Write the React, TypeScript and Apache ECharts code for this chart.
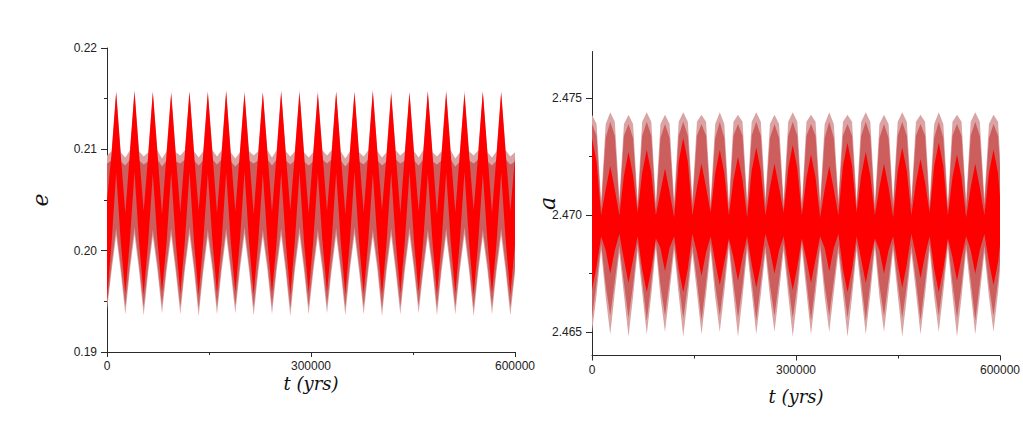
import React, { useEffect, useRef } from "react";
import * as echarts from "echarts";

// ---------- Left panel: eccentricity e vs t (yrs) ----------
const T_E = [
  0, 6740, 13480, 20220,
  26960, 33700, 40440, 47180,
  53920, 60660, 67400, 74140,
  80880, 87620, 94360, 101100,
  107840, 114580, 121320, 128060,
  134800, 141540, 148280, 155020,
  161760, 168500, 175240, 181980,
  188720, 195460, 202200, 208940,
  215680, 222420, 229160, 235900,
  242640, 249380, 256120, 262860,
  269600, 276340, 283080, 289820,
  296560, 303300, 310040, 316780,
  323520, 330260, 337000, 343740,
  350480, 357220, 363960, 370700,
  377440, 384180, 390920, 397660,
  404400, 411140, 417880, 424620,
  431360, 438100, 444840, 451580,
  458320, 465060, 471800, 478540,
  485280, 492020, 498760, 505500,
  512240, 518980, 525720, 532460,
  539200, 545940, 552680, 559420,
  566160, 572900, 579640, 586380,
  593120, 600000,
];
// light pink envelope (upper / lower)
const E_PINK_UP = [
  0.2094, 0.2098, 0.2158, 0.2097,
  0.2092, 0.2099, 0.2159, 0.2098,
  0.2093, 0.2097, 0.2158, 0.2099,
  0.2091, 0.2098, 0.2158, 0.2097,
  0.2094, 0.2099, 0.2157, 0.2098,
  0.2092, 0.2098, 0.2158, 0.2099,
  0.2093, 0.2099, 0.2159, 0.2097,
  0.2091, 0.2097, 0.2158, 0.2098,
  0.2094, 0.2098, 0.2157, 0.2099,
  0.2092, 0.2099, 0.2158, 0.2098,
  0.2093, 0.2098, 0.2159, 0.2097,
  0.2092, 0.2097, 0.2158, 0.2099,
  0.2094, 0.2099, 0.2157, 0.2098,
  0.2091, 0.2098, 0.2158, 0.2097,
  0.2093, 0.2099, 0.2159, 0.2098,
  0.2092, 0.2097, 0.2158, 0.2099,
  0.2094, 0.2098, 0.2157, 0.2098,
  0.2092, 0.2099, 0.2158, 0.2097,
  0.2093, 0.2098, 0.2159, 0.2099,
  0.2091, 0.2097, 0.2158, 0.2098,
  0.2094, 0.2099, 0.2157, 0.2097,
  0.2092, 0.2098, 0.2158, 0.2099,
  0.2093, 0.2097,
];
const E_PINK_LO = [
  0.1942, 0.1980, 0.2015, 0.1979,
  0.1937, 0.1981, 0.2016, 0.1980,
  0.1936, 0.1979, 0.2014, 0.1981,
  0.1938, 0.1980, 0.2015, 0.1979,
  0.1937, 0.1981, 0.2016, 0.1980,
  0.1935, 0.1979, 0.2014, 0.1981,
  0.1937, 0.1980, 0.2015, 0.1979,
  0.1938, 0.1981, 0.2016, 0.1980,
  0.1936, 0.1979, 0.2014, 0.1981,
  0.1937, 0.1980, 0.2015, 0.1979,
  0.1935, 0.1981, 0.2016, 0.1980,
  0.1937, 0.1979, 0.2014, 0.1981,
  0.1938, 0.1980, 0.2015, 0.1979,
  0.1936, 0.1981, 0.2016, 0.1980,
  0.1937, 0.1979, 0.2014, 0.1981,
  0.1935, 0.1980, 0.2015, 0.1979,
  0.1937, 0.1981, 0.2016, 0.1980,
  0.1938, 0.1979, 0.2014, 0.1981,
  0.1936, 0.1980, 0.2015, 0.1979,
  0.1937, 0.1981, 0.2016, 0.1980,
  0.1935, 0.1979, 0.2014, 0.1981,
  0.1937, 0.1980, 0.2015, 0.1979,
  0.1936, 0.1978,
];
// dusky red envelope
const E_DUSK_UP = [
  0.2086, 0.2089, 0.2152, 0.2088,
  0.2084, 0.2090, 0.2153, 0.2089,
  0.2085, 0.2088, 0.2152, 0.2090,
  0.2083, 0.2089, 0.2151, 0.2088,
  0.2086, 0.2090, 0.2153, 0.2089,
  0.2084, 0.2089, 0.2152, 0.2090,
  0.2085, 0.2090, 0.2153, 0.2088,
  0.2083, 0.2088, 0.2151, 0.2089,
  0.2086, 0.2089, 0.2152, 0.2090,
  0.2084, 0.2090, 0.2153, 0.2089,
  0.2085, 0.2089, 0.2152, 0.2088,
  0.2084, 0.2088, 0.2151, 0.2090,
  0.2086, 0.2090, 0.2153, 0.2089,
  0.2083, 0.2089, 0.2152, 0.2088,
  0.2085, 0.2090, 0.2153, 0.2089,
  0.2084, 0.2088, 0.2151, 0.2090,
  0.2086, 0.2089, 0.2152, 0.2089,
  0.2084, 0.2090, 0.2153, 0.2088,
  0.2085, 0.2089, 0.2152, 0.2090,
  0.2083, 0.2088, 0.2151, 0.2089,
  0.2086, 0.2090, 0.2153, 0.2088,
  0.2084, 0.2089, 0.2152, 0.2090,
  0.2085, 0.2088,
];
const E_DUSK_LO = [
  0.1946, 0.1986, 0.2022, 0.1985,
  0.1945, 0.1987, 0.2023, 0.1986,
  0.1944, 0.1985, 0.2021, 0.1987,
  0.1946, 0.1986, 0.2022, 0.1985,
  0.1945, 0.1987, 0.2023, 0.1986,
  0.1943, 0.1985, 0.2021, 0.1987,
  0.1945, 0.1986, 0.2022, 0.1985,
  0.1946, 0.1987, 0.2023, 0.1986,
  0.1944, 0.1985, 0.2021, 0.1987,
  0.1945, 0.1986, 0.2022, 0.1985,
  0.1943, 0.1987, 0.2023, 0.1986,
  0.1945, 0.1985, 0.2021, 0.1987,
  0.1946, 0.1986, 0.2022, 0.1985,
  0.1944, 0.1987, 0.2023, 0.1986,
  0.1945, 0.1985, 0.2021, 0.1987,
  0.1943, 0.1986, 0.2022, 0.1985,
  0.1945, 0.1987, 0.2023, 0.1986,
  0.1946, 0.1985, 0.2021, 0.1987,
  0.1944, 0.1986, 0.2022, 0.1985,
  0.1945, 0.1987, 0.2023, 0.1986,
  0.1943, 0.1985, 0.2021, 0.1987,
  0.1945, 0.1986, 0.2022, 0.1985,
  0.1944, 0.1984,
];
// bright red envelope
const E_RED_UP = [
  0.2050, 0.2096, 0.2156, 0.2095,
  0.2037, 0.2097, 0.2157, 0.2096,
  0.2039, 0.2095, 0.2156, 0.2097,
  0.2036, 0.2096, 0.2155, 0.2095,
  0.2038, 0.2097, 0.2157, 0.2096,
  0.2040, 0.2096, 0.2156, 0.2097,
  0.2037, 0.2095, 0.2157, 0.2096,
  0.2039, 0.2097, 0.2155, 0.2095,
  0.2036, 0.2096, 0.2156, 0.2097,
  0.2038, 0.2095, 0.2157, 0.2096,
  0.2040, 0.2097, 0.2156, 0.2095,
  0.2037, 0.2096, 0.2155, 0.2097,
  0.2039, 0.2095, 0.2157, 0.2096,
  0.2036, 0.2097, 0.2156, 0.2095,
  0.2038, 0.2096, 0.2157, 0.2097,
  0.2040, 0.2095, 0.2155, 0.2096,
  0.2037, 0.2097, 0.2156, 0.2095,
  0.2039, 0.2096, 0.2157, 0.2097,
  0.2036, 0.2095, 0.2156, 0.2096,
  0.2038, 0.2097, 0.2155, 0.2095,
  0.2040, 0.2096, 0.2157, 0.2097,
  0.2037, 0.2095, 0.2156, 0.2096,
  0.2039, 0.2092,
];
const E_RED_LO = [
  0.1952, 0.2008, 0.2077, 0.2009,
  0.1958, 0.2010, 0.2078, 0.2008,
  0.1957, 0.2009, 0.2076, 0.2010,
  0.1959, 0.2008, 0.2077, 0.2009,
  0.1958, 0.2010, 0.2078, 0.2008,
  0.1956, 0.2009, 0.2076, 0.2010,
  0.1958, 0.2008, 0.2077, 0.2009,
  0.1959, 0.2010, 0.2078, 0.2008,
  0.1957, 0.2009, 0.2076, 0.2010,
  0.1958, 0.2008, 0.2077, 0.2009,
  0.1956, 0.2010, 0.2078, 0.2008,
  0.1958, 0.2009, 0.2076, 0.2010,
  0.1959, 0.2008, 0.2077, 0.2009,
  0.1957, 0.2010, 0.2078, 0.2008,
  0.1958, 0.2009, 0.2076, 0.2010,
  0.1956, 0.2008, 0.2077, 0.2009,
  0.1958, 0.2010, 0.2078, 0.2008,
  0.1959, 0.2009, 0.2076, 0.2010,
  0.1957, 0.2008, 0.2077, 0.2009,
  0.1958, 0.2010, 0.2078, 0.2008,
  0.1956, 0.2009, 0.2076, 0.2010,
  0.1958, 0.2008, 0.2077, 0.2009,
  0.1957, 0.2006,
];

// ---------- Right panel: semi-major axis a vs t (yrs) ----------
const T_A = [
  0, 6710, 13420, 20130,
  26840, 33550, 40260, 46970,
  53680, 60390, 67100, 73810,
  80520, 87230, 93940, 100650,
  107360, 114070, 120780, 127490,
  134200, 140910, 147620, 154330,
  161040, 167750, 174460, 181170,
  187880, 194590, 201300, 208010,
  214720, 221430, 228140, 234850,
  241560, 248270, 254980, 261690,
  268400, 275110, 281820, 288530,
  295240, 301950, 308660, 315370,
  322080, 328790, 335500, 342210,
  348920, 355630, 362340, 369050,
  375760, 382470, 389180, 395890,
  402600, 409310, 416020, 422730,
  429440, 436150, 442860, 449570,
  456280, 462990, 469700, 476410,
  483120, 489830, 496540, 503250,
  509960, 516670, 523380, 530090,
  536800, 543510, 550220, 556930,
  563640, 570350, 577060, 583770,
  590480, 597190, 600000,
];
const A_PINK_UP = [
  2.4743, 2.4739, 2.4706, 2.4739,
  2.4744, 2.4740, 2.4707, 2.4739,
  2.4743, 2.4739, 2.4706, 2.4740,
  2.4744, 2.4740, 2.4705, 2.4739,
  2.4743, 2.4739, 2.4706, 2.4740,
  2.4744, 2.4740, 2.4707, 2.4740,
  2.4743, 2.4740, 2.4706, 2.4739,
  2.4744, 2.4739, 2.4705, 2.4740,
  2.4743, 2.4740, 2.4706, 2.4740,
  2.4744, 2.4740, 2.4707, 2.4739,
  2.4743, 2.4739, 2.4706, 2.4740,
  2.4744, 2.4740, 2.4705, 2.4740,
  2.4743, 2.4740, 2.4706, 2.4739,
  2.4744, 2.4739, 2.4707, 2.4740,
  2.4743, 2.4740, 2.4706, 2.4740,
  2.4744, 2.4740, 2.4705, 2.4739,
  2.4743, 2.4739, 2.4706, 2.4740,
  2.4744, 2.4740, 2.4707, 2.4740,
  2.4743, 2.4740, 2.4706, 2.4739,
  2.4744, 2.4739, 2.4705, 2.4740,
  2.4743, 2.4740, 2.4706, 2.4740,
  2.4744, 2.4740, 2.4707, 2.4739,
  2.4743, 2.4740, 2.4726,
];
const A_PINK_LO = [
  2.4650, 2.4666, 2.4685, 2.4665,
  2.4649, 2.4667, 2.4684, 2.4666,
  2.4648, 2.4665, 2.4685, 2.4667,
  2.4649, 2.4666, 2.4686, 2.4665,
  2.4650, 2.4667, 2.4685, 2.4666,
  2.4648, 2.4665, 2.4684, 2.4667,
  2.4649, 2.4666, 2.4685, 2.4665,
  2.4650, 2.4667, 2.4686, 2.4666,
  2.4648, 2.4665, 2.4685, 2.4667,
  2.4649, 2.4666, 2.4684, 2.4665,
  2.4650, 2.4667, 2.4685, 2.4666,
  2.4648, 2.4665, 2.4686, 2.4667,
  2.4649, 2.4666, 2.4685, 2.4665,
  2.4650, 2.4667, 2.4684, 2.4666,
  2.4648, 2.4665, 2.4685, 2.4667,
  2.4649, 2.4666, 2.4686, 2.4665,
  2.4650, 2.4667, 2.4685, 2.4666,
  2.4648, 2.4665, 2.4684, 2.4667,
  2.4649, 2.4666, 2.4685, 2.4665,
  2.4650, 2.4667, 2.4686, 2.4666,
  2.4648, 2.4665, 2.4685, 2.4667,
  2.4649, 2.4666, 2.4684, 2.4665,
  2.4650, 2.4667, 2.4676,
];
const A_DUSK_UP = [
  2.4739, 2.4734, 2.4703, 2.4733,
  2.4740, 2.4734, 2.4704, 2.4734,
  2.4739, 2.4733, 2.4703, 2.4734,
  2.4740, 2.4734, 2.4702, 2.4733,
  2.4739, 2.4733, 2.4703, 2.4734,
  2.4740, 2.4734, 2.4704, 2.4734,
  2.4739, 2.4734, 2.4703, 2.4733,
  2.4740, 2.4733, 2.4702, 2.4734,
  2.4739, 2.4734, 2.4703, 2.4734,
  2.4740, 2.4734, 2.4704, 2.4733,
  2.4739, 2.4733, 2.4703, 2.4734,
  2.4740, 2.4734, 2.4702, 2.4734,
  2.4739, 2.4734, 2.4703, 2.4733,
  2.4740, 2.4733, 2.4704, 2.4734,
  2.4739, 2.4734, 2.4703, 2.4734,
  2.4740, 2.4734, 2.4702, 2.4733,
  2.4739, 2.4733, 2.4703, 2.4734,
  2.4740, 2.4734, 2.4704, 2.4734,
  2.4739, 2.4734, 2.4703, 2.4733,
  2.4740, 2.4733, 2.4702, 2.4734,
  2.4739, 2.4734, 2.4703, 2.4734,
  2.4740, 2.4734, 2.4704, 2.4733,
  2.4739, 2.4734, 2.4721,
];
const A_DUSK_LO = [
  2.4656, 2.4671, 2.4688, 2.4670,
  2.4657, 2.4672, 2.4687, 2.4671,
  2.4656, 2.4670, 2.4688, 2.4672,
  2.4655, 2.4671, 2.4689, 2.4670,
  2.4657, 2.4672, 2.4688, 2.4671,
  2.4656, 2.4670, 2.4687, 2.4672,
  2.4655, 2.4671, 2.4688, 2.4670,
  2.4657, 2.4672, 2.4689, 2.4671,
  2.4656, 2.4670, 2.4688, 2.4672,
  2.4655, 2.4671, 2.4687, 2.4670,
  2.4657, 2.4672, 2.4688, 2.4671,
  2.4656, 2.4670, 2.4689, 2.4672,
  2.4655, 2.4671, 2.4688, 2.4670,
  2.4657, 2.4672, 2.4687, 2.4671,
  2.4656, 2.4670, 2.4688, 2.4672,
  2.4655, 2.4671, 2.4689, 2.4670,
  2.4657, 2.4672, 2.4688, 2.4671,
  2.4656, 2.4670, 2.4687, 2.4672,
  2.4655, 2.4671, 2.4688, 2.4670,
  2.4657, 2.4672, 2.4689, 2.4671,
  2.4656, 2.4670, 2.4688, 2.4672,
  2.4655, 2.4671, 2.4687, 2.4670,
  2.4657, 2.4672, 2.4680,
];
const A_RED_UP = [
  2.4733, 2.4723, 2.4700, 2.4711,
  2.4721, 2.4711, 2.4700, 2.4717,
  2.4727, 2.4717, 2.4701, 2.4718,
  2.4728, 2.4718, 2.4700, 2.4710,
  2.4720, 2.4710, 2.4699, 2.4723,
  2.4733, 2.4723, 2.4700, 2.4712,
  2.4722, 2.4712, 2.4701, 2.4718,
  2.4728, 2.4718, 2.4700, 2.4715,
  2.4725, 2.4715, 2.4699, 2.4719,
  2.4729, 2.4719, 2.4700, 2.4712,
  2.4722, 2.4712, 2.4701, 2.4720,
  2.4730, 2.4720, 2.4700, 2.4716,
  2.4726, 2.4716, 2.4699, 2.4711,
  2.4721, 2.4711, 2.4700, 2.4721,
  2.4731, 2.4721, 2.4701, 2.4717,
  2.4727, 2.4717, 2.4700, 2.4712,
  2.4722, 2.4712, 2.4699, 2.4719,
  2.4729, 2.4719, 2.4700, 2.4714,
  2.4724, 2.4714, 2.4701, 2.4721,
  2.4731, 2.4721, 2.4700, 2.4716,
  2.4726, 2.4716, 2.4699, 2.4712,
  2.4722, 2.4712, 2.4700, 2.4718,
  2.4728, 2.4718, 2.4708,
];
const A_RED_LO = [
  2.4668, 2.4678, 2.4691, 2.4685,
  2.4675, 2.4685, 2.4692, 2.4681,
  2.4671, 2.4681, 2.4691, 2.4677,
  2.4667, 2.4677, 2.4690, 2.4686,
  2.4676, 2.4686, 2.4691, 2.4677,
  2.4667, 2.4677, 2.4692, 2.4684,
  2.4674, 2.4684, 2.4691, 2.4680,
  2.4670, 2.4680, 2.4690, 2.4682,
  2.4672, 2.4682, 2.4691, 2.4679,
  2.4669, 2.4679, 2.4692, 2.4685,
  2.4675, 2.4685, 2.4691, 2.4678,
  2.4668, 2.4678, 2.4690, 2.4681,
  2.4671, 2.4681, 2.4691, 2.4686,
  2.4676, 2.4686, 2.4692, 2.4677,
  2.4667, 2.4677, 2.4691, 2.4681,
  2.4671, 2.4681, 2.4690, 2.4685,
  2.4675, 2.4685, 2.4691, 2.4679,
  2.4669, 2.4679, 2.4692, 2.4683,
  2.4673, 2.4683, 2.4691, 2.4677,
  2.4667, 2.4677, 2.4690, 2.4682,
  2.4672, 2.4682, 2.4691, 2.4685,
  2.4675, 2.4685, 2.4692, 2.4680,
  2.4670, 2.4680, 2.4687,
];

const T_MAX = 600000;
const T_STEP = 300000;
const E_RANGE = [0.19, 0.22];
const A_RANGE = [2.464, 2.477];
const A_LABEL_VALUES = [2.465, 2.47, 2.475];
const A_MINOR_VALUES = [2.4675, 2.4725];

const PINK = "#dba4a4";
const DUSK = "#cc5e5e";
const RED = "#ff0000";

function band(t: number[], lo: number[], up: number[], color: string, idx: number) {
  return {
    type: "custom",
    xAxisIndex: idx,
    yAxisIndex: idx,
    silent: true,
    data: t.map((v, i) => [v, lo[i], up[i]]),
    encode: { x: 0, y: [1, 2] },
    renderItem: (params: any, api: any) => {
      if (params.dataIndex !== 0) return null;
      const pts: number[][] = [];
      for (let i = 0; i < t.length; i++) pts.push(api.coord([t[i], up[i]]));
      for (let i = t.length - 1; i >= 0; i--) pts.push(api.coord([t[i], lo[i]]));
      return { type: "polygon", shape: { points: pts }, style: { fill: color } };
    },
  };
}

const AX_COLOR = "#2a2a2a";
const LABEL_FONT = "'Liberation Sans', Arial, sans-serif";
const NAME_FONT = "'DejaVu Serif', serif";
const lineStyle = { color: AX_COLOR, width: 1 };

function xAxis(gridIndex: number, nameGap: number) {
  return {
    gridIndex,
    type: "value",
    min: 0,
    max: T_MAX,
    interval: T_STEP,
    splitLine: { show: false },
    axisLine: { show: true, onZero: false, lineStyle },
    axisTick: { show: true, length: 5, lineStyle },
    minorTick: { show: true, splitNumber: 2, length: 3, lineStyle },
    axisLabel: {
      color: "#222",
      fontSize: 12,
      lineHeight: 12,
      fontFamily: LABEL_FONT,
      margin: 8,
      formatter: (v: number) => String(v),
    },
    name: "t (yrs)",
    nameLocation: "middle",
    nameGap,
    nameMoveOverlap: false,
    nameTextStyle: {
      fontFamily: NAME_FONT,
      fontStyle: "italic",
      fontSize: 18,
      lineHeight: 18,
      color: "#111",
    },
  };
}

const option = {
  animation: false,
  backgroundColor: "#ffffff",
  grid: [
    { left: 107, top: 48, width: 408, height: 304 },
    { left: 592, top: 51.5, width: 408, height: 304 },
  ],
  xAxis: [xAxis(0, 22), xAxis(1, 32)],
  yAxis: [
    {
      gridIndex: 0,
      type: "value",
      min: E_RANGE[0],
      max: E_RANGE[1],
      interval: 0.01,
      splitLine: { show: false },
      axisLine: { show: true, onZero: false, lineStyle },
      axisTick: { show: true, length: 6, lineStyle },
      minorTick: { show: true, splitNumber: 2, length: 3, lineStyle },
      axisLabel: {
        color: "#222",
        fontSize: 12,
        fontFamily: LABEL_FONT,
        margin: 10,
        formatter: (v: number) => v.toFixed(2),
      },
      name: "e",
      nameLocation: "middle",
      nameGap: 56,
      nameMoveOverlap: false,
      nameTextStyle: { fontFamily: NAME_FONT, fontStyle: "italic", fontSize: 22, color: "#111" },
    },
    {
      gridIndex: 1,
      type: "value",
      min: A_RANGE[0],
      max: A_RANGE[1],
      splitLine: { show: false },
      axisLine: { show: true, onZero: false, lineStyle },
      axisTick: { show: true, length: 6, lineStyle, customValues: A_LABEL_VALUES },
      axisLabel: {
        color: "#222",
        fontSize: 12,
        fontFamily: LABEL_FONT,
        margin: 10,
        customValues: A_LABEL_VALUES,
        formatter: (v: number) => v.toFixed(3),
      },
      name: "a",
      nameLocation: "middle",
      nameGap: 34,
      nameMoveOverlap: false,
      nameTextStyle: { fontFamily: NAME_FONT, fontStyle: "italic", fontSize: 22, color: "#111" },
    },
    {
      gridIndex: 1,
      type: "value",
      min: A_RANGE[0],
      max: A_RANGE[1],
      position: "left",
      splitLine: { show: false },
      axisLine: { show: false, onZero: false },
      axisTick: { show: true, length: 3, lineStyle, customValues: A_MINOR_VALUES },
      axisLabel: { show: false },
    },
  ],
  series: [
    band(T_E, E_PINK_LO, E_PINK_UP, PINK, 0),
    band(T_E, E_DUSK_LO, E_DUSK_UP, DUSK, 0),
    band(T_E, E_RED_LO, E_RED_UP, RED, 0),
    band(T_A, A_PINK_LO, A_PINK_UP, PINK, 1),
    band(T_A, A_DUSK_LO, A_DUSK_UP, DUSK, 1),
    band(T_A, A_RED_LO, A_RED_UP, RED, 1),
  ],
};

export default function App() {
  const ref = useRef<HTMLDivElement>(null);
  useEffect(() => {
    if (!ref.current) return;
    const chart = echarts.init(ref.current, undefined, { renderer: "svg" });
    chart.setOption(option as any);
    return () => chart.dispose();
  }, []);
  return (
    <div
      ref={ref}
      style={{ position: "absolute", left: 0, top: 0, width: 1023, height: 423, background: "#fff" }}
    />
  );
}
